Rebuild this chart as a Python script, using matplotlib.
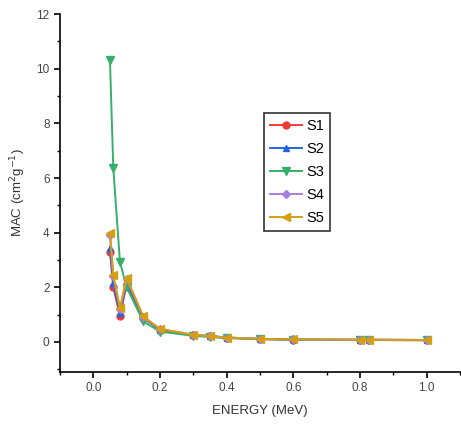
import matplotlib
matplotlib.use('Agg')
import matplotlib.pyplot as plt
from matplotlib.ticker import MultipleLocator

plt.rcParams['font.family'] = ['Liberation Sans', 'DejaVu Sans']

# Photon energies (MeV)
energy = [0.05, 0.06, 0.08, 0.1, 0.15, 0.2, 0.3, 0.35, 0.4, 0.5, 0.6, 0.8, 0.826, 1.0]

# Mass attenuation coefficients (cm2/g) per sample
s1 = [3.30, 2.00, 0.95, 2.10, 0.88, 0.44, 0.24, 0.20, 0.15, 0.10, 0.08, 0.07, 0.07, 0.06]
s2 = [3.45, 2.15, 1.05, 2.20, 0.90, 0.45, 0.25, 0.22, 0.16, 0.11, 0.09, 0.08, 0.08, 0.07]
s3 = [10.33, 6.37, 2.93, 2.00, 0.75, 0.38, 0.22, 0.18, 0.14, 0.10, 0.08, 0.07, 0.07, 0.06]
s4 = [3.90, 2.40, 1.20, 2.30, 0.92, 0.47, 0.26, 0.21, 0.16, 0.11, 0.09, 0.08, 0.08, 0.07]
s5 = [4.00, 2.45, 1.25, 2.35, 0.93, 0.48, 0.26, 0.21, 0.16, 0.11, 0.09, 0.08, 0.08, 0.07]

labels = ['S1', 'S2', 'S3', 'S4', 'S5']
colors = ['#f03a3a', '#2566e0', '#35b06a', '#a97ce0', '#d4a010']
markers = ['o', '^', 'v', 'D', '<']
sizes = [5, 5, 6, 4.5, 6]

fig = plt.figure(figsize=(4.61, 4.29), dpi=100)
ax = fig.add_axes([0.130, 0.133, 0.868, 0.834])

for ys, lab, c, m, ms in zip([s1, s2, s3, s4, s5], labels, colors, markers, sizes):
    ax.plot(energy, ys, color=c, marker=m, markersize=ms, linewidth=1.4, label=lab)

ax.set_xlim(-0.1, 1.1)
ax.set_ylim(-1.1, 12)
ax.xaxis.set_major_locator(MultipleLocator(0.2))
ax.xaxis.set_minor_locator(MultipleLocator(0.1))
ax.yaxis.set_major_locator(MultipleLocator(2))
ax.yaxis.set_minor_locator(MultipleLocator(1))
ax.set_xticks([0.0, 0.2, 0.4, 0.6, 0.8, 1.0])
ax.set_xticklabels(['0.0', '0.2', '0.4', '0.6', '0.8', '1.0'])

for s in ['top', 'right']:
    ax.spines[s].set_visible(False)
for s in ['left', 'bottom']:
    ax.spines[s].set_linewidth(1.2)

ax.tick_params(which='major', direction='out', length=4, width=1.2, labelsize=8.5,
               labelcolor='#444444')
ax.tick_params(which='minor', direction='out', length=2.5, width=1.0)

ax.set_xlabel('ENERGY (MeV)', fontsize=9.5, color='#333333', labelpad=8)
ax.set_ylabel('MAC (cm$^{2}$g$^{-1}$)', fontsize=9.5, color='#333333', labelpad=6)

leg = ax.legend(loc='upper left', bbox_to_anchor=(0.51, 0.723), fontsize=10.5,
                frameon=True, fancybox=False, edgecolor='black', handlelength=2.2,
                handletextpad=0.3, borderpad=0.4, labelspacing=0.62, borderaxespad=0)
leg.get_frame().set_linewidth(1.2)

plt.savefig('out.png', dpi=100)
